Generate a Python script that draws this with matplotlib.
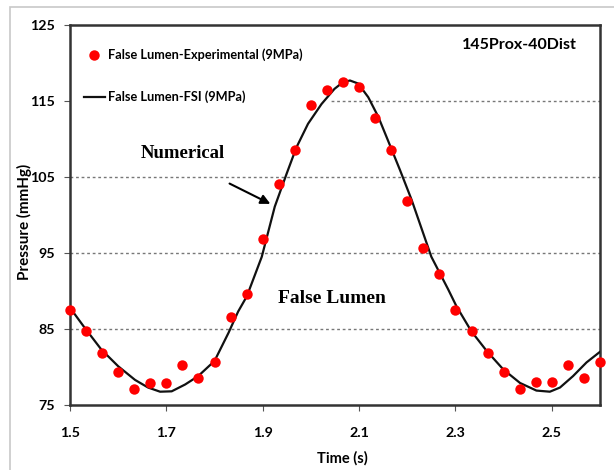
import matplotlib
matplotlib.use("Agg")
import matplotlib.pyplot as plt
from matplotlib.patches import Rectangle

# Experimental data (time in s, pressure in mmHg)
exp_time = [1.5 + k / 30 for k in range(34)]
exp_pressure = [87.45, 84.7, 81.9, 79.3, 77.15, 77.95, 77.95, 80.3, 78.5, 80.7,
                86.6, 89.6, 96.8, 104.1, 108.5, 114.5, 116.5, 117.55, 116.8, 112.7,
                108.6, 101.9, 95.6, 92.3, 87.45, 84.7, 81.9, 79.3, 77.15, 78.0,
                78.0, 80.3, 78.5, 80.7]

# FSI numerical curve
fsi_time = [1.500, 1.530, 1.565, 1.600, 1.635, 1.662, 1.687, 1.711, 1.739, 1.766,
            1.800, 1.829, 1.849, 1.867, 1.898, 1.925, 1.950, 1.970, 1.994, 2.022,
            2.049, 2.065, 2.081, 2.098, 2.119, 2.140, 2.160, 2.185, 2.209, 2.250,
            2.285, 2.302, 2.333, 2.365, 2.399, 2.434, 2.468, 2.496, 2.517, 2.544,
            2.572, 2.600]
fsi_pressure = [87.8, 85.2, 82.3, 80.1, 78.3, 77.3, 76.75, 76.8, 77.7, 78.8,
                80.8, 84.5, 87.3, 89.3, 94.5, 101.1, 105.5, 108.9, 112.0, 114.6,
                116.6, 117.4, 117.7, 117.3, 115.5, 112.9, 109.8, 105.9, 102.0, 94.5,
                90.2, 88.0, 84.7, 82.1, 79.7, 77.9, 76.9, 76.75, 77.3, 78.8,
                80.6, 82.0]

x_ticks = [1.5, 1.7, 1.9, 2.1, 2.3, 2.5]
y_ticks = [75, 85, 95, 105, 115, 125]

sans = ["Lato", "DejaVu Sans"]
serif = ["Liberation Serif", "DejaVu Serif"]

fig = plt.figure(figsize=(6.14, 4.70), dpi=100)
fig.patches.append(Rectangle((10 / 614, -0.05), 1.0, 1 - 7 / 470 + 0.05,
                             transform=fig.transFigure, fill=False,
                             edgecolor="#c8c8c8", linewidth=1.2))

ax = fig.add_axes([70 / 614, 1 - 405 / 470, 530 / 614, 380 / 470])

ax.plot(exp_time, exp_pressure, linestyle="none", marker="o", markersize=7.5,
        color="#ff0000", markeredgewidth=0, label="False Lumen-Experimental (9MPa)",
        zorder=4, clip_on=False)
ax.plot(fsi_time, fsi_pressure, color="#111111", linewidth=1.6,
        label="False Lumen-FSI (9MPa)", zorder=3)

ax.set_xlim(1.5, 2.6)
ax.set_ylim(75, 125)
ax.set_xticks(x_ticks)
ax.set_yticks(y_ticks)
ax.set_xticklabels([f"{v:.1f}" for v in x_ticks], fontfamily=sans,
                   fontweight="bold", fontsize=10.3)
ax.set_yticklabels([str(v) for v in y_ticks], fontfamily=sans,
                   fontweight="bold", fontsize=10.3)
ax.tick_params(axis="x", direction="out", length=4, width=0.8, color="#555555", pad=12)
ax.tick_params(axis="y", direction="out", length=4, width=0.8, color="#555555", pad=7)

for y in [85, 95, 105, 115]:
    ax.axhline(y, color="#777777", linestyle=(0, (2, 2)), linewidth=1.0, zorder=1)

# white legend background area (hides gridline behind legend)
ax.add_patch(Rectangle((0, (405 - 112) / 380), (330 - 70) / 530, 1,
                       transform=ax.transAxes, facecolor="white",
                       edgecolor="none", zorder=1.5))

for sp in ax.spines.values():
    sp.set_color("#333333")
    sp.set_linewidth(1.8)

ax.set_xlabel("Time (s)", fontfamily=sans, fontweight="bold", fontsize=10.5,
              va="center")
ax.xaxis.set_label_coords((342 - 70) / 530, (405 - 458) / 380)
ax.set_ylabel("Pressure (mmHg)", fontfamily=sans, fontweight="bold", fontsize=11,
              va="center")
ax.yaxis.set_label_coords((24.5 - 70) / 530, (405 - 222) / 380)

leg = ax.legend(loc="upper left", bbox_to_anchor=(0.005, 0.968), frameon=False,
                numpoints=1, handlelength=1.6, handletextpad=0.3,
                labelspacing=2.3, prop={"family": sans, "weight": "bold", "size": 9.2})

ax.text((577 - 70) / 530, (405 - 45) / 380, "145Prox-40Dist", transform=ax.transAxes,
        ha="right", va="center", fontfamily=sans, fontweight="bold", fontsize=11.5)

ax.text(1.734, 108.1, "Numerical", fontfamily=serif, fontweight="bold",
        fontsize=13.5, ha="center", va="center")
ax.text(2.044, 89.0, "False Lumen", fontfamily=serif, fontweight="bold",
        fontsize=14, ha="center", va="center")
ax.annotate("", xy=(1.921, 101.3), xytext=(1.826, 104.3),
            arrowprops=dict(arrowstyle="-|>", color="black", lw=1.5,
                            mutation_scale=14))

fig.savefig("out.png", dpi=100)
